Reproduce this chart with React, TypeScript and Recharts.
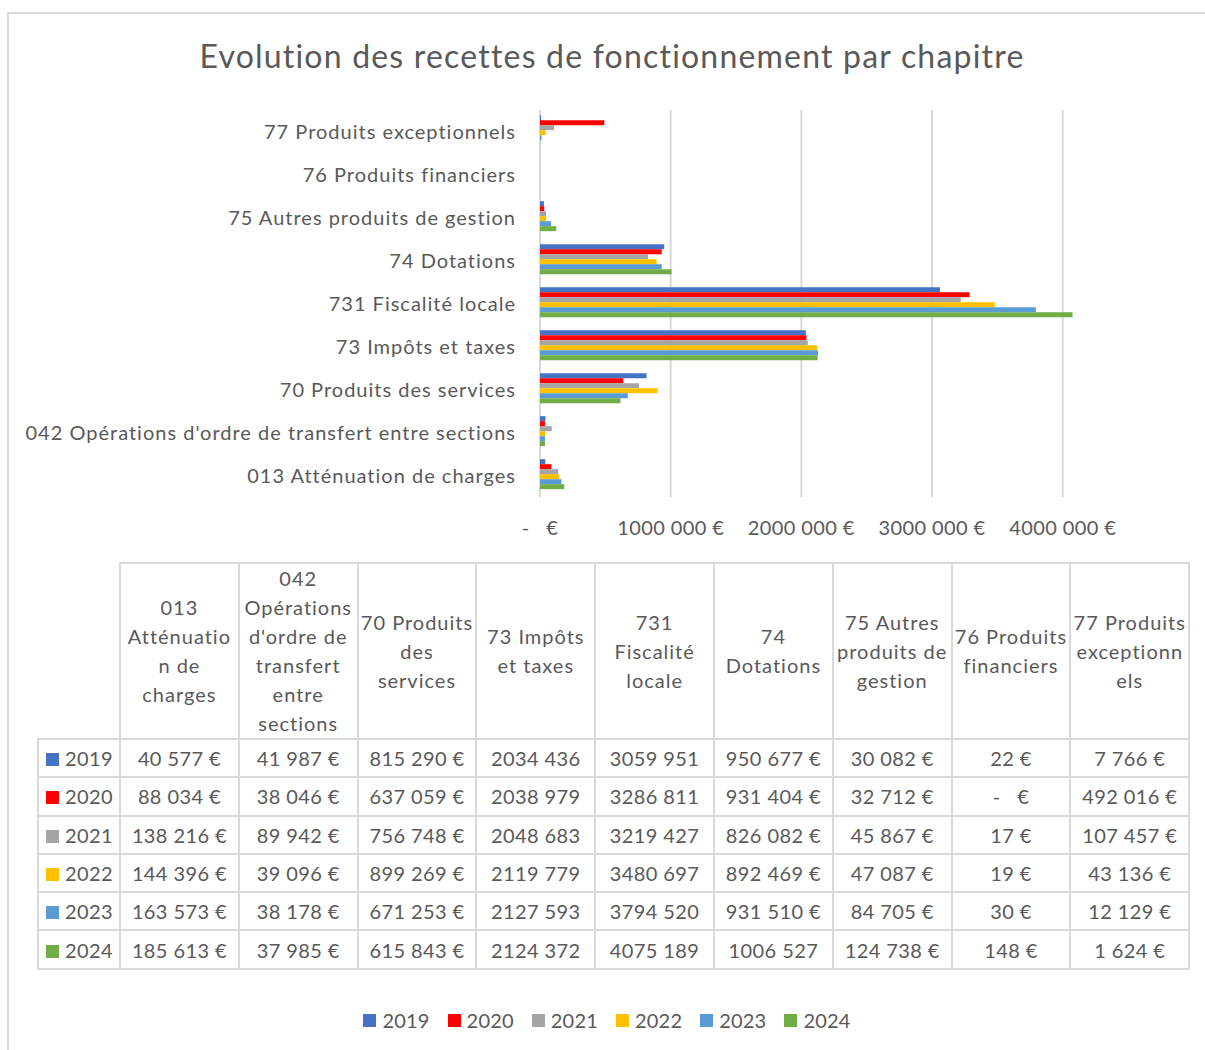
import { BarChart, Bar, XAxis, YAxis, CartesianGrid } from 'recharts';

const chapters = [
  '013 Atténuation de charges',
  "042 Opérations d'ordre de transfert entre sections",
  '70 Produits des services',
  '73 Impôts et taxes',
  '731 Fiscalité locale',
  '74 Dotations',
  '75 Autres produits de gestion',
  '76 Produits financiers',
  '77 Produits exceptionnels',
];

// header text as wrapped in the table
const headerLines = [
  ['013', 'Atténuatio', 'n de', 'charges'],
  ['042', 'Opérations', "d'ordre de", 'transfert', 'entre', 'sections'],
  ['70 Produits', 'des', 'services'],
  ['73 Impôts', 'et taxes'],
  ['731', 'Fiscalité', 'locale'],
  ['74', 'Dotations'],
  ['75 Autres', 'produits de', 'gestion'],
  ['76 Produits', 'financiers'],
  ['77 Produits', 'exceptionn', 'els'],
];

const years = ['2019', '2020', '2021', '2022', '2023', '2024'];
const colors = ['#4472C4', '#FF0000', '#A5A5A5', '#FFC000', '#5B9BD5', '#70AD47'];

const v2019 = [40577, 41987, 815290, 2034436, 3059951, 950677, 30082, 22, 7766];
const v2020 = [88034, 38046, 637059, 2038979, 3286811, 931404, 32712, 0, 492016];
const v2021 = [138216, 89942, 756748, 2048683, 3219427, 826082, 45867, 17, 107457];
const v2022 = [144396, 39096, 899269, 2119779, 3480697, 892469, 47087, 19, 43136];
const v2023 = [163573, 38178, 671253, 2127593, 3794520, 931510, 84705, 30, 12129];
const v2024 = [185613, 37985, 615843, 2124372, 4075189, 1006527, 124738, 148, 1624];

const series = [v2019, v2020, v2021, v2022, v2023, v2024];
const axisTicks = [0, 1000000, 2000000, 3000000, 4000000];
const X_MAX = 4400000;

const data = chapters.map((name, i) => {
  const row: Record<string, string | number> = { name };
  years.forEach((y, k) => {
    row[y] = series[k][i];
  });
  return row;
});

const FONT = 'Lato, "Open Sans", sans-serif';
const TEXT = '#595959';
const LINE = '#d9d9d9';

function euro(v: number) {
  if (v === 0) return '-\u00a0\u00a0\u00a0€';
  const s = v < 1000 ? String(v) : `${Math.floor(v / 1000)} ${String(v % 1000).padStart(3, '0')}`;
  return v >= 1000000 ? s : `${s} €`;
}

// gridlines only at the labelled ticks, not at the end of the domain
function gridX(props: any) {
  const { xAxis, offset } = props || {};
  if (xAxis && typeof xAxis.scale === 'function') return axisTicks.map((t) => xAxis.scale(t));
  if (offset && typeof offset.left === 'number') {
    return axisTicks.map((t) => offset.left + (offset.width * t) / X_MAX);
  }
  return [];
}

function DataTable() {
  const cell = { border: `2px solid ${LINE}`, textAlign: 'center' as const, padding: 0 };
  return (
    <table
      style={{
        position: 'absolute',
        left: 37,
        top: 562,
        width: 1151,
        borderCollapse: 'collapse',
        tableLayout: 'fixed',
        fontSize: 20,
        color: TEXT,
        fontFamily: FONT,
      }}
    >
      <colgroup>
        <col style={{ width: 82 }} />
        {chapters.map((c) => (
          <col key={c} style={{ width: 118.8 }} />
        ))}
      </colgroup>
      <tbody>
        <tr style={{ height: 175 }}>
          <td style={{ border: 'none', borderRight: `2px solid ${LINE}` }} />
          {headerLines.map((lines, i) => (
            <td key={i} style={{ ...cell, lineHeight: '29px', letterSpacing: 1 }}>
              {lines.map((l) => (
                <div key={l}>{l}</div>
              ))}
            </td>
          ))}
        </tr>
        {years.map((y, k) => (
          <tr key={y} style={{ height: 38.3 }}>
            <td style={{ ...cell, textAlign: 'left', paddingLeft: 7, whiteSpace: 'nowrap', letterSpacing: 0.4 }}>
              <span
                style={{
                  display: 'inline-block',
                  width: 13,
                  height: 13,
                  background: colors[k],
                  marginRight: 6,
                }}
              />
              {y}
            </td>
            {series[k].map((v, i) => (
              <td key={i} style={{ ...cell, whiteSpace: 'nowrap', letterSpacing: 0.4 }}>
                {euro(v)}
              </td>
            ))}
          </tr>
        ))}
      </tbody>
    </table>
  );
}

export default function App() {
  return (
    <div
      style={{
        position: 'absolute',
        left: 0,
        top: 0,
        width: 1205,
        height: 1050,
        overflow: 'hidden',
        background: '#fff',
        fontFamily: FONT,
      }}
    >
      <div
        style={{
          position: 'absolute',
          left: 7,
          top: 12,
          width: 1210,
          height: 1060,
          border: `2px solid ${LINE}`,
          boxSizing: 'border-box',
        }}
      />
      <div
        style={{
          position: 'absolute',
          left: 7,
          top: 36,
          width: 1210,
          textAlign: 'center',
          fontSize: 32,
          lineHeight: '40px',
          letterSpacing: 1.2,
          color: TEXT,
        }}
      >
        Evolution des recettes de fonctionnement par chapitre
      </div>
      <div style={{ position: 'absolute', left: 0, top: 0 }}>
        <BarChart
          width={1205}
          height={560}
          data={data}
          layout="vertical"
          margin={{ top: 110, right: 90, bottom: 23, left: 0 }}
          barCategoryGap="12%"
          barGap={0}
        >
          <CartesianGrid horizontal={false} stroke={LINE} strokeWidth={2} verticalCoordinatesGenerator={gridX} />
          <XAxis
            type="number"
            domain={[0, X_MAX]}
            ticks={axisTicks}
            interval={0}
            tickFormatter={(v: number) => (v === 0 ? '-\u00a0\u00a0\u00a0€' : `${v / 1000} 000 €`)}
            axisLine={false}
            tickLine={false}
            tickSize={0}
            tickMargin={24}
            height={40}
            tick={{ fill: TEXT, fontSize: 20, fontFamily: FONT, letterSpacing: 0.4 }}
          />
          <YAxis
            type="category"
            dataKey="name"
            reversed
            width={540}
            axisLine={false}
            tickLine={false}
            tickSize={0}
            tickMargin={24}
            interval={0}
            tick={{ fill: TEXT, fontSize: 20, fontFamily: FONT, letterSpacing: 1 }}
          />
          {years.map((y, k) => (
            <Bar key={y} dataKey={y} fill={colors[k]} isAnimationActive={false} />
          ))}
        </BarChart>
      </div>
      <DataTable />
      <div
        style={{
          position: 'absolute',
          left: 2,
          top: 1007,
          width: 1210,
          display: 'flex',
          justifyContent: 'center',
          gap: 18,
          fontSize: 20,
          lineHeight: '26px',
          letterSpacing: 0.2,
          color: TEXT,
        }}
      >
        {years.map((y, k) => (
          <div key={y} style={{ display: 'flex', alignItems: 'center' }}>
            <span
              style={{ display: 'inline-block', width: 13, height: 13, background: colors[k], marginRight: 6 }}
            />
            {y}
          </div>
        ))}
      </div>
    </div>
  );
}
